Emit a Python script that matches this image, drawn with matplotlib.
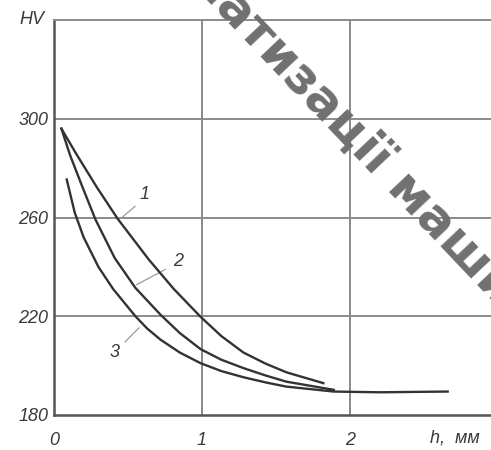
import matplotlib
matplotlib.use("Agg")
import matplotlib.pyplot as plt

# ---- data ----
h1 = [0.05, 0.15, 0.29, 0.43, 0.64, 0.81, 0.99, 1.13, 1.28, 1.43, 1.57, 1.82]
hv1 = [296, 285.8, 272.2, 259.5, 243.0, 231.0, 219.8, 212.0, 205.3, 200.8, 197.3, 192.9]

h2 = [0.05, 0.11, 0.19, 0.28, 0.41, 0.55, 0.72, 0.85, 0.99, 1.13, 1.28, 1.43, 1.57, 1.89]
hv2 = [296, 285.0, 272.7, 259.2, 243.6, 231.5, 220.6, 213.2, 206.7, 202.4, 199.0, 196.0, 193.5, 190.2]

h3 = [0.086, 0.14, 0.20, 0.30, 0.40, 0.55, 0.63, 0.72, 0.85, 0.99, 1.13, 1.28, 1.43, 1.57, 1.89, 2.20, 2.66]
hv3 = [275.4, 262.0, 252.0, 240.0, 231.0, 220.0, 215.0, 210.5, 205.3, 201.0, 197.8, 195.3, 193.2, 191.5, 189.5, 189.2, 189.5]

curve_labels = ["1", "2", "3"]
x_ticks = [0, 1, 2]
x_ticklabels = ["0", "1", "2"]
y_ticks = [180, 220, 260, 300]
y_ticklabels = ["180", "220", "260", "300"]
y_label = "HV"
x_label = "h,  мм"
watermark = "матизації машин"

W, H = 491, 450
fig = plt.figure(figsize=(W / 100, H / 100), dpi=100)
ax = fig.add_axes([54 / W, (H - 415) / H, 1 - 54 / W, (415 - 20) / H])

ax.set_xlim(0, (W - 54) / 148)
ax.set_ylim(180, 340)

dark = "#333333"
grid = "#8a8a8a"
font = dict(family=["Liberation Sans", "DejaVu Sans"], style="italic", color="#3a3a3a")

for x in [1, 2]:
    ax.axvline(x, color=grid, lw=1.4, zorder=1)
for y in [220, 260, 300]:
    ax.axhline(y, color=grid, lw=1.4, zorder=1)

ax.spines["right"].set_visible(False)
ax.spines["top"].set_color(grid)
ax.spines["top"].set_linewidth(1.4)
for sp in ["left", "bottom"]:
    ax.spines[sp].set_color("#555555")
    ax.spines[sp].set_linewidth(1.8)

for hx, hy in [(h1, hv1), (h2, hv2), (h3, hv3)]:
    ax.plot(hx, hy, color=dark, lw=1.7, zorder=3, solid_joinstyle="round")

ax.set_xticks(x_ticks)
ax.set_xticklabels(x_ticklabels, fontsize=13, **font)
ax.set_yticks(y_ticks)
ax.set_yticklabels(y_ticklabels, fontsize=13, **font)
ax.tick_params(axis="both", length=0)
ax.tick_params(axis="x", pad=12)
ax.tick_params(axis="y", pad=4)

# curve labels with leader lines
lab_pos = [(0.615, 269.3), (0.838, 242.1), (0.412, 205.2)]
lead_from = [(0.457, 259.9), (0.559, 232.8), (0.574, 215.3)]
lead_to = [(0.547, 264.5), (0.750, 238.9), (0.480, 209.6)]
for lab, p, a, b in zip(curve_labels, lab_pos, lead_from, lead_to):
    ax.plot([a[0], b[0]], [a[1], b[1]], color="#9a9a9a", lw=0.9, zorder=2)
    ax.text(p[0], p[1], lab, fontsize=13, ha="center", va="center", **font)

fig.text(44 / W, 1 - 19 / H, y_label, fontsize=13, ha="right", va="center", **font)
fig.text(430 / W, 1 - 438 / H, x_label, fontsize=13, ha="left", va="center", **font)

# diagonal watermark
fig.text(196 / W, 1 - (-32) / H, watermark, fontsize=36, fontweight="bold",
         family="DejaVu Sans", color="#707070", rotation=-46.5,
         rotation_mode="anchor", ha="left", va="center", zorder=10)

fig.savefig("out.png", dpi=100)
